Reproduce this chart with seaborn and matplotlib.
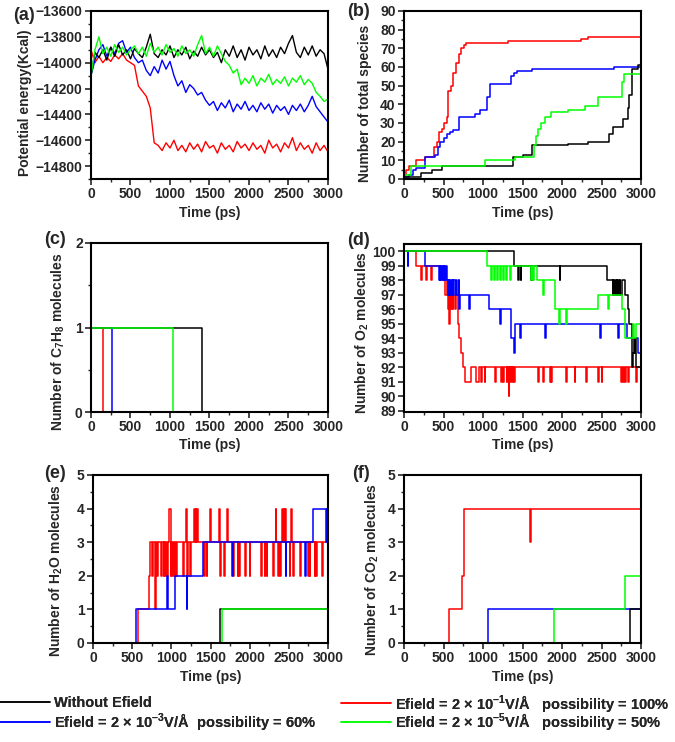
import numpy as np
import seaborn as sns
import matplotlib.pyplot as plt
from matplotlib.ticker import MultipleLocator
from matplotlib.lines import Line2D

# ----------------------------
# Data
# ----------------------------
red, blue, black, green = "#ff0000", "#0000ff", "#000000", "#00ff00"

lbl_black = "Without Efield"
lbl_red = "Efield = 2 \u00d7 10$^{-1}$V/\u00c5   possibility = 100%"
lbl_blue = "Efield = 2 \u00d7 10$^{-3}$V/\u00c5  possibility = 60%"
lbl_green = "Efield = 2 \u00d7 10$^{-5}$V/\u00c5   possibility = 50%"

# (a) potential energy, sampled every 50 ps
a_time = np.arange(0, 3001, 50)
a_black = [-14100, -13920, -13960, -13900, -13980, -13880, -13950, -13860, -13940, -13900,
           -13970, -13890, -13930, -13960, -13880, -13780, -13930, -13960, -13900, -13940,
           -13870, -13960, -13900, -13940, -13880, -13970, -13910, -13950, -13880, -13940,
           -13900, -13960, -13920, -14000, -13900, -13950, -13870, -13960, -13900, -13980,
           -13880, -13940, -13900, -13970, -13870, -13950, -13900, -13960, -13880, -13930,
           -13850, -13790, -13920, -13960, -13880, -13940, -13870, -13950, -13900, -13930,
           -14050]
a_green = [-14100, -13900, -13800, -13930, -13880, -13950, -13860, -13920, -13880, -13940,
           -13900, -13870, -13930, -13880, -13950, -13850, -13920, -13880, -13940, -13860,
           -13920, -13890, -13950, -13870, -13930, -13900, -13950, -13860, -13790, -13930,
           -13880, -13950, -13870, -13930, -13990, -14020, -14080, -14050, -14170, -14120,
           -14160, -14100, -14180, -14120, -14150, -14090, -14170, -14130, -14160, -14110,
           -14180, -14120, -14150, -14100, -14170, -14130, -14160, -14230, -14260, -14300,
           -14280]
a_blue = [-14100, -13980, -13900, -13860, -13950, -13880, -13930, -13850, -13830, -13920,
          -13880, -13960, -14000, -13980, -14060, -14100, -14030, -14080, -13980, -14050,
          -13990, -14100, -14180, -14140, -14230, -14170, -14200, -14250, -14230, -14290,
          -14330, -14300, -14370, -14310, -14350, -14290, -14380, -14320, -14360, -14300,
          -14370, -14330, -14380, -14310, -14360, -14320, -14390, -14330, -14370, -14340,
          -14400, -14330, -14370, -14320, -14380, -14330, -14260, -14340, -14380, -14420,
          -14460]
a_red = [-13900, -14000, -13950, -14000, -13960, -13990, -13940, -13970, -13930, -13980,
         -14000, -14020, -14180, -14220, -14260, -14350, -14620, -14640, -14680, -14620,
         -14660, -14600, -14680, -14640, -14690, -14620, -14670, -14630, -14690, -14610,
         -14660, -14640, -14700, -14620, -14670, -14640, -14690, -14610, -14660, -14630,
         -14680, -14620, -14670, -14640, -14700, -14600, -14660, -14630, -14690, -14620,
         -14660, -14580, -14680, -14620, -14670, -14640, -14700, -14620, -14680, -14640,
         -14690]

# (b) number of total species, (time, count) steps
b_red = [(0, 2), (25, 5), (60, 7), (150, 10), (260, 12), (380, 17), (420, 20), (440, 25),
         (480, 27), (500, 30), (540, 33), (560, 47), (600, 50), (620, 57), (660, 62),
         (690, 67), (720, 70), (760, 72), (790, 73), (1320, 74), (2240, 75), (2330, 76),
         (3000, 76)]
b_blue = [(0, 1), (60, 2), (110, 5), (150, 6), (260, 12), (390, 13), (430, 17), (460, 20),
          (500, 22), (540, 24), (580, 25), (620, 26), (700, 33), (900, 35), (960, 37),
          (1050, 44), (1090, 51), (1360, 55), (1390, 57), (1430, 58), (1620, 59),
          (2660, 60), (3000, 60)]
b_black = [(0, 1), (220, 3), (350, 5), (480, 7), (1380, 12), (1500, 13), (1620, 18),
           (2080, 19), (2330, 20), (2590, 24), (2650, 28), (2770, 32), (2830, 38),
           (2850, 45), (2880, 59), (2960, 61), (3000, 60)]
b_green = [(0, 2), (90, 7), (1030, 10), (1400, 12), (1650, 18), (1670, 23), (1700, 27),
           (1730, 30), (1780, 33), (1860, 36), (2080, 37), (2290, 39), (2460, 44),
           (2760, 52), (2790, 56), (3000, 56)]

# (c) C7H8 molecules
c_red = [(0, 1), (150, 0), (3000, 0)]
c_blue = [(0, 1), (270, 0), (3000, 0)]
c_black = [(0, 1), (1400, 0), (3000, 0)]
c_green = [(0, 1), (1040, 0), (3000, 0)]

# (d) O2 molecules
d_red = [(0, 100), (150, 99), (215, 98), (225, 99), (280, 98), (290, 99), (345, 98), (355, 99),
         (480, 98), (515, 97), (540, 98), (555, 96), (565, 97), (575, 95), (585, 97), (595, 96),
         (605, 97), (615, 96), (625, 97), (640, 96), (660, 97), (680, 95), (700, 94), (720, 93),
         (745, 92), (770, 91), (850, 92), (915, 91), (945, 92), (975, 91), (990, 92), (1020, 91),
         (1030, 92), (1150, 91), (1160, 92), (1230, 91), (1240, 92), (1255, 91), (1265, 92),
         (1300, 91), (1310, 92), (1325, 90), (1335, 92), (1350, 91), (1360, 92), (1375, 91),
         (1385, 92), (1395, 91), (1405, 92), (1700, 91), (1710, 92), (1760, 91), (1770, 92),
         (1845, 91), (1855, 92), (1865, 91), (1875, 92), (2055, 91), (2065, 92), (2160, 91),
         (2170, 92), (2310, 91), (2320, 92), (2455, 91), (2465, 92), (2500, 91), (2510, 92),
         (2750, 91), (2760, 92), (2775, 91), (2785, 92), (2795, 91), (2805, 92), (2835, 91),
         (2845, 92), (2940, 91), (2950, 92), (3000, 92)]
d_blue = [(0, 100), (45, 99), (55, 100), (265, 99), (440, 98), (450, 99), (460, 98), (470, 99),
          (480, 98), (490, 99), (500, 98), (510, 99), (520, 98), (530, 99), (545, 98), (555, 97),
          (565, 98), (575, 97), (585, 98), (595, 97), (605, 98), (615, 97), (625, 98), (640, 97),
          (655, 98), (670, 97), (690, 98), (700, 96), (710, 97), (825, 96), (835, 97), (1075, 96),
          (1215, 95), (1225, 96), (1355, 94), (1395, 93), (1405, 95), (1465, 94), (1475, 95),
          (1790, 94), (1800, 95), (2480, 94), (2490, 95), (2715, 94), (2725, 95), (2820, 94),
          (2960, 93), (3000, 93)]
d_black = [(0, 100), (1390, 99), (1440, 98), (1450, 99), (1475, 98), (1485, 99), (1605, 98),
           (1615, 99), (1625, 98), (1635, 99), (1970, 98), (1980, 99), (2575, 98), (2640, 97),
           (2650, 98), (2660, 97), (2670, 98), (2680, 97), (2690, 98), (2700, 97), (2710, 98),
           (2720, 97), (2730, 98), (2740, 97), (2760, 98), (2800, 97), (2830, 96), (2850, 95),
           (2880, 94), (2890, 92), (2900, 93), (2910, 94), (2920, 93), (2930, 94), (2940, 92),
           (3000, 92)]
d_green = [(0, 100), (1045, 99), (1105, 98), (1115, 99), (1140, 98), (1150, 99), (1180, 98),
           (1190, 99), (1220, 98), (1230, 99), (1255, 98), (1265, 99), (1295, 98), (1305, 99),
           (1340, 98), (1350, 99), (1610, 98), (1620, 99), (1635, 98), (1645, 99), (1680, 98),
           (1760, 97), (1770, 98), (1910, 96), (1960, 95), (1970, 96), (2055, 95), (2065, 96),
           (2460, 97), (2580, 96), (2590, 97), (2765, 96), (2800, 94), (2900, 95), (2910, 94),
           (2940, 95), (3000, 95)]

# (e) H2O molecules
e_red = [(0, 0), (580, 1), (710, 2), (730, 3), (750, 2), (760, 3), (790, 1), (805, 3), (815, 2),
         (825, 3), (870, 2), (880, 3), (900, 2), (910, 3), (925, 2), (935, 3), (950, 2), (960, 3),
         (975, 4), (990, 2), (1000, 3), (1010, 2), (1020, 3), (1030, 2), (1045, 3), (1060, 2),
         (1070, 3), (1150, 2), (1160, 3), (1190, 4), (1200, 2), (1210, 3), (1240, 2), (1250, 3),
         (1290, 4), (1300, 3), (1310, 4), (1320, 3), (1330, 4), (1340, 3), (1415, 2), (1425, 3),
         (1450, 2), (1460, 3), (1490, 4), (1500, 3), (1605, 4), (1615, 3), (1620, 2), (1630, 3),
         (1675, 2), (1685, 3), (1710, 4), (1720, 3), (1790, 2), (1800, 3), (1845, 2), (1855, 3),
         (1865, 2), (1875, 3), (1940, 2), (1950, 3), (2000, 2), (2010, 3), (2150, 2), (2160, 3),
         (2190, 2), (2200, 3), (2215, 2), (2225, 3), (2300, 2), (2310, 3), (2330, 4), (2340, 3),
         (2360, 2), (2370, 3), (2385, 2), (2395, 3), (2415, 4), (2425, 3), (2440, 4), (2450, 3),
         (2455, 4), (2465, 3), (2510, 2), (2520, 3), (2525, 4), (2535, 3), (2555, 2), (2565, 3),
         (2640, 2), (2650, 3), (2745, 2), (2755, 3), (2765, 2), (2775, 3), (2830, 2), (2840, 3),
         (2850, 2), (2860, 3), (2925, 2), (2935, 3), (3000, 3)]
e_blue = [(0, 0), (545, 1), (945, 2), (955, 1), (1048, 2), (1195, 1), (1205, 2), (1400, 3),
          (1775, 2), (1785, 3), (2460, 2), (2470, 3), (2710, 2), (2720, 3), (2810, 4),
          (2975, 3), (2985, 4), (2990, 3), (3000, 3)]
e_black = [(0, 0), (1620, 1), (3000, 1)]
e_green = [(0, 0), (1645, 1), (3000, 1)]

# (f) CO2 molecules
f_red = [(0, 0), (575, 1), (740, 2), (760, 4), (1600, 3), (1608, 4), (3000, 4)]
f_blue = [(0, 0), (1060, 1), (3000, 1)]
f_black = [(0, 0), (2860, 1), (3000, 1)]
f_green = [(0, 0), (1900, 1), (2800, 2), (3000, 2)]

# ----------------------------
# Style
# ----------------------------
sns.set_theme(style="ticks")
plt.rcParams["font.family"] = ["Liberation Sans", "DejaVu Sans"]
plt.rcParams.update({
    "font.weight": "bold",
    "axes.labelweight": "bold",
    "mathtext.fontset": "custom",
    "mathtext.rm": "Liberation Sans:bold",
    "mathtext.it": "Liberation Sans:bold",
    "mathtext.bf": "Liberation Sans:bold",
    "mathtext.default": "rm",
    "axes.linewidth": 1.5,
    "xtick.direction": "out",
    "ytick.direction": "out",
    "xtick.major.size": 4,
    "ytick.major.size": 4,
    "xtick.minor.size": 2,
    "ytick.minor.size": 2,
    "xtick.major.width": 1.2,
    "ytick.major.width": 1.2,
    "xtick.minor.width": 1.0,
    "ytick.minor.width": 1.0,
    "xtick.major.pad": 2,
    "ytick.major.pad": 2,
    "xtick.labelsize": 10,
    "ytick.labelsize": 10,
    "axes.labelsize": 10,
})

W, H = 675, 742
fig = plt.figure(figsize=(W / 100, H / 100), dpi=100)


def add_axes(x0, y0, x1, y1):
    ax = fig.add_axes([x0 / W, 1 - y1 / H, (x1 - x0) / W, (y1 - y0) / H])
    ax.box_px = (x0, y0, x1, y1)
    return ax


def draw_steps(ax, pts, color):
    t, n = zip(*pts)
    sns.lineplot(x=list(t), y=list(n), color=color, drawstyle="steps-post",
                 estimator=None, lw=1.1, ax=ax, legend=False)


def finish(ax, ylim, ymaj, ymin, ylabel, label_c, tag, tag_xy):
    ax.set_xlim(0, 3000)
    ax.set_ylim(*ylim)
    ax.xaxis.set_major_locator(MultipleLocator(500))
    ax.xaxis.set_minor_locator(MultipleLocator(250))
    ax.yaxis.set_major_locator(MultipleLocator(ymaj))
    if ymin:
        ax.yaxis.set_minor_locator(MultipleLocator(ymin))
    ax.set_xlabel("Time (ps)", labelpad=3)
    ax.set_ylabel(ylabel)
    # place the y label where the reference has it (centre in pixels)
    x0, y0, x1, y1 = ax.box_px
    ax.yaxis.set_label_coords((label_c[0] + 7 - x0) / (x1 - x0),
                              (y1 - label_c[1]) / (y1 - y0))
    for s in ax.spines.values():
        s.set_visible(True)
        s.set_color("black")
    fig.text(tag_xy[0] / W, 1 - tag_xy[1] / H, tag, fontsize=13, fontweight="bold",
             ha="left", va="center")


# (a)
ax = add_axes(91, 11, 328, 179)
for vals, col in [(a_red, red), (a_blue, blue), (a_black, black), (a_green, green)]:
    sns.lineplot(x=a_time, y=vals, color=col, lw=1.0, ax=ax, legend=False)
finish(ax, (-14900, -13600), 200, 100, "Potential energy(Kcal)", (25, 103), "(a)", (13, 15))

# (b)
ax = add_axes(404, 11, 641, 179)
for pts, col in [(b_red, red), (b_blue, blue), (b_black, black), (b_green, green)]:
    draw_steps(ax, pts, col)
finish(ax, (0, 90), 10, 5, "Number of total species", (365, 103), "(b)", (347, 11))

# (c)
ax = add_axes(91, 243, 328, 412)
for pts, col in [(c_red, red), (c_blue, blue), (c_black, black), (c_green, green)]:
    draw_steps(ax, pts, col)
finish(ax, (0, 2), 1, 0.5, "Number of C$_7$H$_8$ molecules", (60, 342), "(c)", (44, 239))

# (d)
ax = add_axes(404, 244, 641, 412)
for pts, col in [(d_red, red), (d_blue, blue), (d_black, black), (d_green, green)]:
    draw_steps(ax, pts, col)
finish(ax, (88.9, 100.5), 1, None, "Number of O$_2$ molecules", (364, 332), "(d)", (347, 241))

# (e)
ax = add_axes(93, 475, 328, 643)
for pts, col in [(e_red, red), (e_blue, blue), (e_black, black), (e_green, green)]:
    draw_steps(ax, pts, col)
finish(ax, (0, 5), 1, 0.5, "Number of H$_2$O molecules", (58, 570), "(e)", (44, 474))

# (f)
ax = add_axes(404, 475, 641, 643)
for pts, col in [(f_red, red), (f_blue, blue), (f_black, black), (f_green, green)]:
    draw_steps(ax, pts, col)
finish(ax, (0, 5), 1, 0.5, "Number of CO$_2$ molecules", (374, 569), "(f)", (352, 474))

# Legend below the panels: one entry per slot so the two columns line up
leg_kw = dict(frameon=False, handlelength=3.4, handletextpad=0.3, borderpad=0,
              borderaxespad=0, loc="center left", prop={"weight": "bold", "size": 10.5})
entries = [(black, lbl_black, 0, 703), (blue, lbl_blue, 0, 722),
           (red, lbl_red, 341, 703), (green, lbl_green, 341, 722)]
for col, lbl, lx, ly in entries:
    leg = fig.legend([Line2D([], [], color=col, lw=1.1)], [lbl],
                     bbox_to_anchor=(lx / W, 1 - ly / H), **leg_kw)
    fig.add_artist(leg)

fig.savefig("out.png", dpi=100, facecolor="white")
